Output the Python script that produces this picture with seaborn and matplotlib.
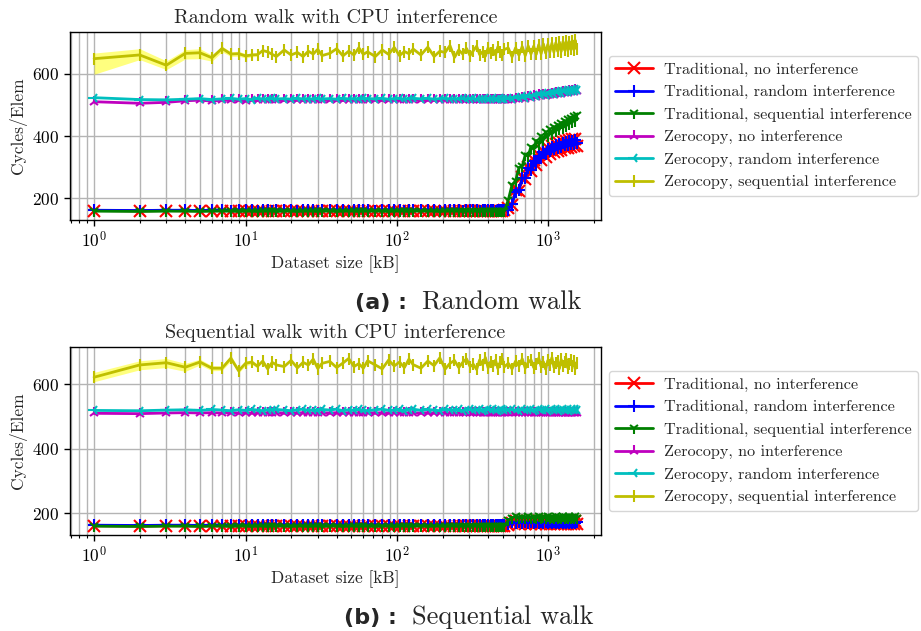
import matplotlib
matplotlib.use("Agg")
import matplotlib.pyplot as plt
import seaborn as sns

# ---------------- data ----------------
sizes_kb = [1, 2, 3, 4, 5, 6, 7, 8, 9, 10, 11, 12, 13, 14, 15, 16,
            18, 20, 22, 24, 26, 28, 30, 32,
            36, 40, 44, 48, 52, 56, 60, 64,
            72, 80, 88, 96, 104, 112, 120, 128,
            144, 160, 176, 192, 208, 224, 240, 256, 272, 288, 304, 320,
            336, 352, 368, 384, 400, 416, 432, 448, 464, 480, 496, 512,
            544, 576, 608, 640, 672, 704, 736, 768, 800, 832, 864, 896,
            928, 960, 992, 1024, 1056, 1088, 1120, 1152, 1184, 1216, 1248, 1280,
            1312, 1344, 1376, 1408, 1440, 1472, 1504, 1536]

labels = ["Traditional, no interference", "Traditional, random interference",
          "Traditional, sequential interference", "Zerocopy, no interference",
          "Zerocopy, random interference", "Zerocopy, sequential interference"]

# ---- (a) Random walk ----
a_trad_none = [161, 160, 161, 160, 161, 160, 161, 161, 160, 161, 160, 161, 161, 160, 161, 161,
               161, 160, 161, 161, 160, 161, 161, 160,
               161, 161, 160, 161, 161, 160, 161, 161,
               161, 160, 161, 161, 161, 160, 161, 161,
               161, 161, 160, 161, 161, 161, 160, 161, 161, 161, 160, 161,
               161, 161, 161, 160, 161, 161, 161, 161, 160, 161, 161, 162,
               168, 178, 226, 224, 268, 261, 300, 288, 323, 308, 340, 323,
               353, 334, 362, 342, 369, 348, 374, 352, 378, 356, 382, 360,
               385, 363, 388, 365, 390, 367, 392, 369]
a_trad_rand = [162, 161, 162, 162, 161, 162, 162, 161, 162, 162, 162, 161, 162, 162, 161, 162,
               162, 162, 161, 162, 162, 162, 161, 162,
               162, 162, 162, 161, 162, 162, 162, 162,
               161, 162, 162, 162, 162, 161, 162, 162,
               162, 162, 162, 161, 162, 162, 162, 162, 161, 162, 162, 162,
               162, 161, 162, 162, 162, 162, 162, 161, 162, 162, 162, 163,
               164, 182, 222, 228, 264, 266, 296, 292, 319, 312, 336, 330,
               349, 343, 358, 352, 365, 357, 370, 362, 374, 366, 378, 370,
               380, 372, 383, 374, 385, 376, 388, 377]
a_trad_seq = [159, 158, 159, 159, 158, 159, 159, 159, 158, 159, 159, 158, 159, 159, 159, 158,
              159, 159, 158, 159, 159, 159, 158, 159,
              159, 158, 159, 159, 159, 158, 159, 159,
              159, 159, 158, 159, 159, 159, 158, 159,
              159, 159, 159, 158, 159, 159, 159, 159, 158, 159, 159, 159,
              159, 158, 159, 159, 159, 159, 158, 159, 159, 159, 159, 160,
              195, 244, 256, 299, 303, 339, 336, 366, 358, 385, 375, 400,
              388, 412, 399, 421, 407, 429, 415, 436, 421, 442, 427, 448,
              433, 454, 439, 459, 444, 464, 449, 469]
a_zc_none = [510, 505, 508, 513, 515, 512, 515, 514, 515, 513, 515, 514, 515, 514, 515, 515,
             514, 515, 515, 514, 515, 515, 514, 515,
             515, 515, 514, 515, 515, 515, 514, 515,
             515, 514, 515, 515, 515, 514, 515, 515,
             515, 515, 514, 515, 515, 515, 515, 514, 515, 515, 515, 515,
             514, 515, 515, 515, 515, 514, 515, 515, 515, 515, 514, 515,
             517, 515, 520, 518, 523, 520, 526, 523, 528, 525, 530, 527,
             532, 529, 533, 531, 536, 533, 538, 535, 539, 536, 541, 538,
             542, 539, 544, 540, 545, 542, 546, 543]
a_zc_rand = [523, 517, 516, 518, 520, 517, 519, 521, 518, 520, 517, 521, 519, 518, 521, 519,
             520, 518, 521, 519, 520, 518, 521, 519,
             520, 518, 521, 519, 520, 518, 521, 520,
             519, 521, 518, 520, 521, 518, 520, 521,
             519, 521, 518, 520, 521, 519, 520, 518, 521, 519, 520, 521,
             518, 520, 519, 521, 520, 518, 521, 519, 520, 521, 519, 520,
             522, 518, 525, 521, 528, 523, 531, 526, 533, 528, 535, 530,
             537, 532, 539, 534, 541, 536, 543, 538, 544, 539, 546, 541,
             547, 542, 549, 543, 550, 545, 551, 546]
a_zc_seq = [648, 660, 627, 665, 667, 651, 681, 663, 664, 657, 660, 661, 674, 670, 662, 655,
            676, 660, 668, 655, 672, 663, 678, 658,
            665, 680, 657, 672, 660, 683, 662, 670,
            655, 676, 662, 684, 658, 671, 664, 679,
            660, 685, 655, 672, 668, 690, 652, 676, 663, 681, 658, 674,
            688, 661, 670, 656, 683, 665, 677, 660, 686, 668, 659, 678,
            682, 654, 683, 659, 687, 658, 689, 663, 688, 662, 693, 664,
            695, 666, 694, 670, 698, 669, 699, 672, 701, 671, 702, 676,
            704, 674, 703, 678, 706, 677, 707, 680]
# confidence band of the zerocopy/sequential series (visible for the smallest sizes)
a_zc_seq_lo = [598, 645, 613, 647, 648, 640, 670, 655, 656, 650, 654, 655]
a_zc_seq_hi = [666, 680, 641, 677, 680, 660, 688, 670, 672, 664, 666, 667]

# ---- (b) Sequential walk ----
b_trad_none = [161, 160, 161, 161, 160, 161, 160, 161, 161, 160, 161, 161, 160, 161, 161, 160,
               161, 160, 161, 161, 160, 161, 161, 160,
               161, 161, 160, 161, 160, 161, 161, 160,
               161, 160, 161, 161, 160, 161, 161, 160,
               161, 160, 161, 161, 160, 161, 161, 160, 161, 161, 160, 161,
               160, 161, 161, 160, 161, 161, 160, 161, 161, 160, 161, 160,
               164, 170, 176, 168, 177, 167, 176, 168, 177, 167, 176, 168,
               177, 167, 176, 168, 177, 167, 176, 168, 177, 167, 176, 168,
               177, 167, 176, 168, 177, 167, 176, 168]
b_trad_rand = [163, 162, 163, 163, 162, 163, 163, 162, 163, 163, 162, 163, 163, 162, 163, 163,
               164, 163, 164, 164, 163, 164, 164, 163,
               164, 164, 163, 164, 164, 163, 164, 164,
               164, 163, 164, 164, 163, 164, 164, 164,
               164, 164, 163, 164, 164, 164, 163, 164, 164, 164, 163, 164,
               164, 164, 163, 164, 164, 164, 163, 164, 164, 164, 163, 165,
               166, 173, 170, 174, 171, 173, 170, 174, 171, 173, 170, 174,
               171, 173, 170, 174, 171, 173, 170, 174, 171, 173, 170, 174,
               171, 173, 170, 174, 171, 173, 170, 174]
b_trad_seq = [160, 159, 160, 160, 159, 160, 160, 159, 160, 160, 159, 160, 160, 159, 160, 160,
              160, 159, 160, 160, 159, 160, 160, 159,
              160, 160, 159, 160, 160, 159, 160, 160,
              159, 160, 160, 159, 160, 160, 159, 160,
              160, 159, 160, 160, 159, 160, 160, 159, 160, 160, 159, 160,
              160, 159, 160, 160, 159, 160, 160, 159, 160, 160, 159, 160,
              178, 186, 190, 184, 189, 185, 190, 184, 189, 185, 190, 184,
              189, 185, 190, 184, 189, 185, 190, 184, 189, 185, 190, 184,
              189, 185, 190, 184, 189, 185, 190, 184]
b_zc_none = [510, 509, 511, 512, 511, 512, 511, 512, 511, 512, 511, 512, 511, 512, 511, 512,
             511, 512, 511, 512, 511, 512, 511, 512,
             511, 512, 511, 512, 511, 512, 511, 512,
             511, 512, 511, 512, 511, 512, 511, 512,
             511, 512, 511, 512, 511, 512, 511, 512, 511, 512, 511, 512,
             511, 512, 511, 512, 511, 512, 511, 512, 511, 512, 511, 512,
             511, 512, 511, 512, 511, 512, 511, 512, 511, 512, 511, 512,
             511, 512, 511, 512, 511, 512, 511, 512, 511, 512, 511, 512,
             511, 512, 511, 512, 511, 512, 511, 512]
b_zc_rand = [519, 518, 520, 521, 519, 522, 520, 518, 521, 519, 522, 520, 518, 521, 519, 522,
             520, 518, 521, 523, 519, 521, 518, 522,
             520, 523, 518, 521, 519, 522, 520, 518,
             521, 523, 519, 520, 522, 518, 521, 523,
             519, 522, 520, 518, 523, 521, 519, 522, 518, 521, 523, 519,
             520, 522, 518, 521, 523, 519, 522, 520, 518, 521, 523, 520,
             519, 522, 520, 518, 523, 521, 519, 522, 518, 521, 523, 519,
             520, 522, 518, 521, 523, 519, 522, 520, 518, 521, 523, 520,
             519, 522, 518, 521, 523, 519, 522, 520]
b_zc_seq = [622, 660, 667, 653, 669, 650, 650, 681, 642, 665, 669, 656, 672, 648, 668, 660,
            655, 674, 651, 668, 660, 678, 649, 665,
            671, 652, 666, 680, 655, 664, 650, 673,
            660, 648, 675, 657, 669, 652, 678, 661,
            650, 672, 658, 682, 647, 665, 674, 652, 668, 679, 655, 662,
            646, 676, 660, 683, 651, 670, 657, 675, 649, 668, 680, 654,
            665, 648, 672, 657, 679, 650, 668, 676, 652, 663, 681, 655,
            670, 647, 674, 661, 683, 653, 666, 672, 649, 677, 658, 669,
            680, 651, 664, 675, 656, 671, 648, 667]
b_zc_seq_lo = [608, 645, 652, 640, 660, 642, 643, 672, 635, 658, 662, 650]
b_zc_seq_hi = [637, 673, 680, 665, 678, 658, 657, 690, 650, 672, 676, 662]

titles = ["Random walk with CPU interference", "Sequential walk with CPU interference"]
caption_tags = ["(a) :", "(b) :"]
caption_texts = ["Random walk", "Sequential walk"]

# ---------------- style ----------------
sns.set_style("ticks")
plt.rcParams.update({
    "font.family": "serif",
    "font.serif": ["cmr10", "DejaVu Serif"],
    "mathtext.fontset": "cm",
    "axes.formatter.use_mathtext": True,
    "axes.edgecolor": "black",
    "axes.linewidth": 1.0,
    "xtick.color": "black",
    "ytick.color": "black",
    "xtick.direction": "out",
    "ytick.direction": "out",
    "xtick.major.size": 4.0,
    "xtick.minor.size": 2.5,
    "ytick.major.size": 4.0,
    "xtick.major.width": 1.0,
    "xtick.minor.width": 0.8,
    "ytick.major.width": 1.0,
    "legend.fancybox": True,
})

colors = ["r", "b", "g", "m", "c", "y"]
markers = ["x", "+", "1", "2", "3", "|"]

fig = plt.figure(figsize=(9.21, 6.31), dpi=100)
ax_a = fig.add_axes([0.0760, 0.6513, 0.5762, 0.2984])
ax_b = fig.add_axes([0.0760, 0.1521, 0.5762, 0.2984])

panels = [
    (ax_a, [a_trad_none, a_trad_rand, a_trad_seq, a_zc_none, a_zc_rand, a_zc_seq],
     a_zc_seq_lo, a_zc_seq_hi),
    (ax_b, [b_trad_none, b_trad_rand, b_trad_seq, b_zc_none, b_zc_rand, b_zc_seq],
     b_zc_seq_lo, b_zc_seq_hi),
]

for i, (ax, series, lo, hi) in enumerate(panels):
    ax.fill_between(sizes_kb[:len(lo)], lo, hi, color="yellow", alpha=0.5,
                    linewidth=0, zorder=1)
    for vals, lab, col, mk in zip(series, labels, colors, markers):
        sns.lineplot(x=sizes_kb, y=vals, ax=ax, color=col, marker=mk,
                     markersize=8, markeredgecolor=col, markeredgewidth=1.5,
                     linewidth=2, label=lab, errorbar=None, zorder=2)
    ax.set_xscale("log")
    ax.set_axisbelow(True)
    ax.grid(True, which="major", axis="both", color="#b4b4b4", linewidth=1.0)
    ax.grid(True, which="minor", axis="x", color="#b4b4b4", linewidth=1.0)
    ax.set_yticks([200, 400, 600])
    ax.tick_params(axis="both", labelsize=12.5)
    ax.set_title(titles[i], fontsize=14.4)
    ax.set_xlabel("Dataset size [kB]", fontsize=12.5, labelpad=3)
    ax.set_ylabel("Cycles/Elem", fontsize=12.5)
    ax.legend(loc="center left", bbox_to_anchor=(1.0, 0.5), fontsize=11.7,
              numpoints=1, handlelength=2.3, handletextpad=0.7, frameon=True,
              framealpha=0.8, edgecolor="#cccccc")

# captions
cap_y = [1 - 309 / 631, 1 - 624 / 631]
tag_x = [406.7 / 921, 397 / 921]
txt_x = [421.7 / 921, 412 / 921]
for i in range(2):
    fig.text(tag_x[i], cap_y[i], caption_tags[i], ha="right", va="baseline",
             fontsize=16, fontweight="bold", family="DejaVu Sans")
    fig.text(txt_x[i], cap_y[i], caption_texts[i], ha="left", va="baseline",
             fontsize=19, family="cmr10")

fig.savefig("out.png", dpi=100)
